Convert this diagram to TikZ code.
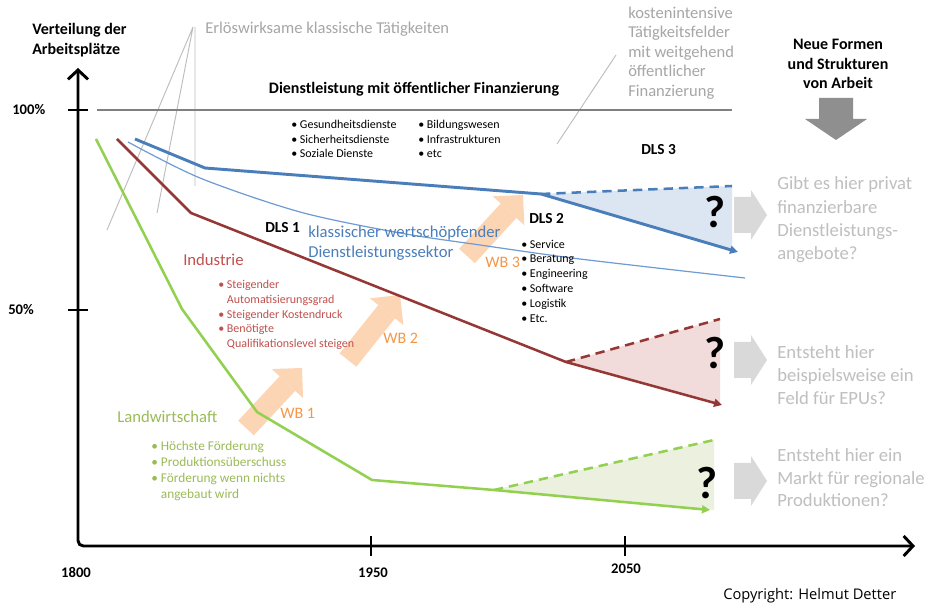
\documentclass[tikz,border=0pt]{standalone}
\usepackage{fontspec}
\setmainfont{Carlito}
\newfontfamily\copyfont{Open Sans}
\usetikzlibrary{arrows.meta}

\definecolor{dlsblue}{HTML}{4A7EBB}
\definecolor{dlsthin}{HTML}{6E9BD3}
\definecolor{dlsfill}{HTML}{DCE6F2}
\definecolor{indred}{HTML}{953735}
\definecolor{indtext}{HTML}{C0504D}
\definecolor{indfill}{HTML}{F2DCDB}
\definecolor{lwgreen}{HTML}{92D050}
\definecolor{lwtext}{HTML}{9BBB59}
\definecolor{lwfill}{HTML}{EBF1DE}
\definecolor{wborange}{HTML}{F79646}
\definecolor{wbfill}{HTML}{FCD5B5}
\definecolor{greytext}{HTML}{A6A6A6}
\definecolor{lighttext}{HTML}{BFBFBF}
\definecolor{greyline}{HTML}{BDBDBD}
\definecolor{greyarrow}{HTML}{D9D9D9}
\definecolor{darkarrow}{HTML}{8F8F8F}

\begin{document}
\begin{tikzpicture}[x=0.75pt,y=-0.75pt,
  txt/.style={inner sep=0pt,anchor=west,align=left},
  head/.style={txt,font=\fontsize{12}{15.5}\selectfont\bfseries},
  note/.style={txt,text=greytext,font=\fontsize{12.4}{14.6}\selectfont},
  ask/.style={txt,text=lighttext,font=\fontsize{14}{17.5}\selectfont},
  list/.style={txt,font=\fontsize{9}{11}\selectfont},
  topic/.style={txt,font=\fontsize{12.5}{15}\selectfont},
  wb/.style={txt,text=wborange,font=\fontsize{12}{14}\selectfont},
  trend/.style={line width=1.9pt,line join=round,-{Triangle[length=6pt,width=6pt]}},
  future/.style={line width=1.9pt,dash pattern=on 7pt off 4.5pt},
  wbarrow/.style={draw=wbfill,line width=16pt,-{Triangle[length=16pt,width=32pt,line width=0pt]}},
  qmark/.style={inner sep=0pt,font=\fontsize{34}{34}\selectfont\bfseries},
  pointer/.style={draw=greyline,line width=0.7pt}]
  \fill[white] (0,0) rectangle (925,605);

  % Hinweislinien
  \coordinate (fan) at (193,27);
  \coordinate (fan1) at (107,230);
  \coordinate (fan2) at (157,213);
  \coordinate (fan3) at (195,186);
  \coordinate (kostenptr) at (616,55);
  \coordinate (kostenend) at (557,144);
  \draw[pointer] (fan) -- (fan1) (fan) -- (fan2) (fan -| fan3) -- (fan3);
  \draw[pointer] (kostenptr) -- (kostenend);
  \draw[gray,line width=0.8pt] (97,110) -- (732,110);

  % Zukunftsfelder
  \coordinate (b0) at (135,139); \coordinate (b1) at (205,168);
  \coordinate (b2) at (541,194); \coordinate (b3) at (738,252);
  \coordinate (b4) at (732,186);
  \coordinate (r0) at (117,139); \coordinate (r1) at (191,213);
  \coordinate (r2) at (566,362); \coordinate (r3) at (722,405);
  \coordinate (r4) at (720,319);
  \coordinate (g0) at (96,139);  \coordinate (g1) at (182,309);
  \coordinate (g2) at (257,412); \coordinate (g3) at (372,480);
  \coordinate (g4) at (494,490); \coordinate (g5) at (710,510);
  \coordinate (g6) at (714,440);
  \fill[dlsfill] (b2) -- (b4) -- (732,250) -- cycle;
  \fill[indfill] (r2) -- (r4) -- (720,404) -- cycle;
  \fill[lwfill] (g4) -- (g6) -- (714,510) -- cycle;

  % Wandlungsschritte
  \draw[wbarrow] (246,428) -- (302,368);
  \draw[wbarrow] (348,360) -- (400,295);
  \draw[wbarrow] (467,256) -- (523,195);

  % Verläufe
  \draw[dlsthin,line width=0.9pt] plot[smooth] coordinates
    {(128,142) (200,178) (300,212) (400,233) (480,245) (580,259) (745,278)};
  \draw[trend,dlsblue,line width=2.2pt] (b0) -- (b1) -- (b2) -- (b3);
  \draw[future,dlsblue] (b2) -- (b4);
  \draw[trend,indred] (r0) -- (r1) -- (r2) -- (r3);
  \draw[future,indred] (r2) -- (r4);
  \draw[trend,lwgreen] (g0) -- (g1) -- (g2) -- (g3) -- (g4) -- (g5);
  \draw[future,lwgreen] (g4) -- (g6);

  % Achsen
  \coordinate (ytop) at (78,68);
  \coordinate (origin) at (78,546);
  \coordinate (xend) at (915,546);
  \draw[line width=2.2pt,rounded corners=4pt,
    {Straight Barb[length=7pt,width=15pt]}-{Straight Barb[length=7pt,width=15pt]}]
    (ytop) -- (origin) -- (xend);
  \foreach \y in {110,310} \draw[line width=1.8pt] (68,\y) -- (88,\y);
  \foreach \x in {371,625} \draw[line width=1.8pt] (\x,536) -- (\x,556);
  \node[head,font=\fontsize{11}{13}\selectfont\bfseries] (p100) at (12,110) {100\%};
  \node[head,font=\fontsize{11}{13}\selectfont\bfseries] (p50) at (8,310) {50\%};
  \node[head,anchor=center,font=\fontsize{11}{13}\selectfont\bfseries] (y1800) at (76,572) {1800};
  \node[head,anchor=center,font=\fontsize{11}{13}\selectfont\bfseries] (y1950) at (373,573) {1950};
  \node[head,anchor=center,font=\fontsize{11}{13}\selectfont\bfseries] (y2050) at (626,569) {2050};

  % Pfeile rechts
  \fill[darkarrow] (819,98) -- (853,98) -- (853,119) -- (867,119) -- (836,140)
    -- (805,119) -- (819,119) -- cycle;
  \foreach \y in {215,360,481}
    \fill[greyarrow] (734,\y-18) -- (751,\y-18) -- (751,\y-25) -- (767,\y)
      -- (751,\y+25) -- (751,\y+18) -- (734,\y+18) -- cycle;

  % Beschriftung
  \node[head] (ylabel) at (32,40) {Verteilung der\\Arbeitsplätze};
  \node[note] (erloes) at (205,29) {Erlöswirksame klassische Tätigkeiten};
  \node[note] (kosten) at (628,53) {kostenintensive\\Tätigkeitsfelder\\mit weitgehend\\öffentlicher\\Finanzierung};
  \node[head,anchor=center,align=center,font=\fontsize{12}{14.6}\selectfont\bfseries] (neue) at (838,64)
    {Neue Formen\\und Strukturen\\von Arbeit};
  \node[head,anchor=center] (oeff) at (414,89) {Dienstleistung mit öffentlicher Finanzierung};
  \node[list] (oeffa) at (291,139) {\textbullet\ Gesundheitsdienste\\\textbullet\ Sicherheitsdienste\\\textbullet\ Soziale Dienste};
  \node[list] (oeffb) at (418,139) {\textbullet\ Bildungswesen\\\textbullet\ Infrastrukturen\\\textbullet\ etc};
  \node[head,font=\fontsize{11.5}{13}\selectfont\bfseries] (dls3) at (641,150) {DLS 3};
  \node[head,font=\fontsize{11.5}{13}\selectfont\bfseries] (dls1) at (265,228) {DLS 1};
  \node[topic,text=dlsblue] (klass) at (308,243) {klassischer wertschöpfender\\Dienstleistungssektor};
  \node[head,font=\fontsize{11.5}{13}\selectfont\bfseries] (dls2) at (529,219) {DLS 2};
  \node[list,font=\fontsize{9}{11.1}\selectfont] (dlsb) at (521,281)
    {\textbullet\ Service\\\textbullet\ Beratung\\\textbullet\ Engineering\\\textbullet\ Software\\\textbullet\ Logistik\\\textbullet\ Etc.};
  \node[topic,text=indtext] (ind) at (183,260) {Industrie};
  \node[list,text=indtext] (indb) at (218,315)
    {\textbullet\ Steigender\\\phantom{\textbullet\ }Automatisierungsgrad\\\textbullet\ Steigender Kostendruck\\\textbullet\ Benötigte\\\phantom{\textbullet\ }Qualifikationslevel steigen};
  \node[topic,text=lwtext] (lw) at (117,417) {Landwirtschaft};
  \node[list,text=lwtext,font=\fontsize{10}{12.2}\selectfont] (lwb) at (151,471)
    {\textbullet\ Höchste Förderung\\\textbullet\ Produktionsüberschuss\\\textbullet\ Förderung wenn nichts\\\phantom{\textbullet\ }angebaut wird};
  \node[wb] (wb1) at (280,413) {WB 1};
  \node[wb] (wb2) at (383,338) {WB 2};
  \node[wb] (wb3) at (485,262) {WB 3};
  \node[qmark] (q1) at (715,212) {?};
  \node[qmark] (q2) at (715,353) {?};
  \node[qmark] (q3) at (707,483) {?};
  \node[ask] (ask1) at (777,220) {Gibt es hier privat\\finanzierbare\\Dienstleistungs-\\angebote?};
  \node[ask] (ask2) at (777,375) {Entsteht hier\\beispielsweise ein\\Feld für EPUs?};
  \node[ask,font=\fontsize{14}{16.9}\selectfont] (ask3) at (777,478) {Entsteht hier ein\\Markt für regionale\\Produktionen?};
  \node[txt,font=\copyfont\fontsize{11}{13}\selectfont] (copy) at (723,596) {Copyright: Helmut Detter};
\end{tikzpicture}
\end{document}
